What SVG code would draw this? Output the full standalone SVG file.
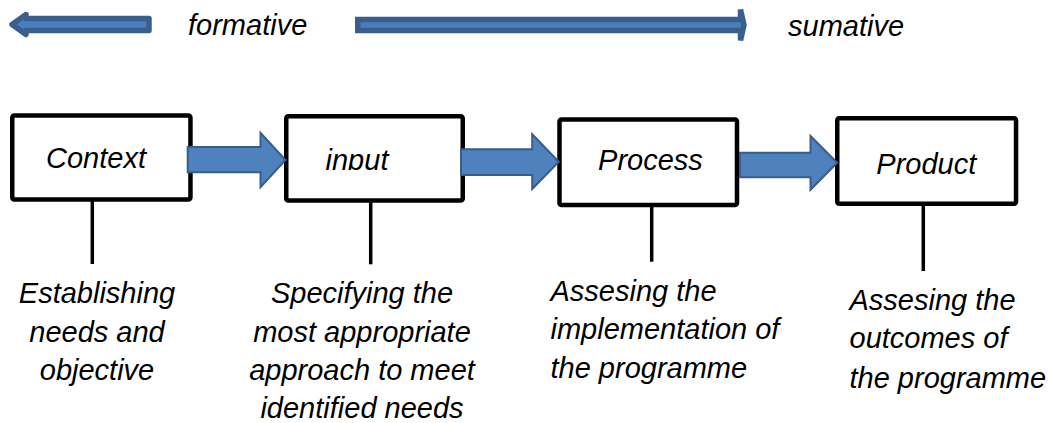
<svg xmlns="http://www.w3.org/2000/svg" width="1055" height="423" viewBox="0 0 1055 423">
  <style>
    .lbl { font-family: "Liberation Sans", Arial, sans-serif; font-style: italic; font-size: 29px; fill: #000; }
    .mid { text-anchor: middle; }
    .box { fill: #fff; stroke: #000; stroke-width: 4.5; }
    .stem { stroke: #000; stroke-width: 3.5; fill: none; }
    .block { fill: #4F81BD; stroke: #385D8A; stroke-width: 2; stroke-linejoin: miter; }
    .band { fill: #4A7EBB; stroke: #3A5F8E; stroke-width: 5.5; }
  </style>
  <defs>
    <clipPath id="clipInput">
      <rect x="290" y="120" width="170" height="50"/>
    </clipPath>
  </defs>
  <rect width="1055" height="423" fill="#fff"/>

  <!-- scale of evaluation: formative to sumative -->
  <g id="scale">
    <path class="band" stroke-linejoin="round" d="M149,18.5 H26 V14.5 L12,24.5 L26,34.5 V30.5 H149 Z"/>
    <text class="lbl" x="188" y="35">formative</text>
    <path class="band" stroke-linejoin="miter" d="M357.75,19.5 H740.5 V9.5 L744,25 L740.5,40.5 V30.5 H357.75 Z"/>
    <text class="lbl" x="788" y="36">sumative</text>
  </g>

  <!-- vertical stems from boxes down to descriptions -->
  <g id="stems">
    <line class="stem" x1="92.3" y1="200" x2="92.3" y2="264"/>
    <line class="stem" x1="370.7" y1="200" x2="370.7" y2="264.3"/>
    <line class="stem" x1="651.7" y1="205" x2="651.7" y2="261.7"/>
    <line class="stem" x1="923.3" y1="204" x2="923.3" y2="271"/>
  </g>

  <g id="node-context">
    <rect class="box" x="12.25" y="115.5" width="178.2" height="84" rx="2"/>
    <text class="lbl mid" x="96" y="168">Context</text>
    <text class="lbl mid" x="97" y="303.3">Establishing</text>
    <text class="lbl mid" x="97" y="341.7">needs and</text>
    <text class="lbl mid" x="97" y="380">objective</text>
  </g>

  <g id="node-input">
    <rect class="box" x="286.25" y="116.25" width="176.5" height="84.2" rx="2"/>
    <text class="lbl mid" x="357" y="169.5" clip-path="url(#clipInput)">input</text>
    <text class="lbl mid" x="362" y="303.3">Specifying the</text>
    <text class="lbl mid" x="362" y="341.7">most appropriate</text>
    <text class="lbl mid" x="362" y="380">approach to meet</text>
    <text class="lbl mid" x="362" y="418">identified needs</text>
  </g>

  <g id="node-process">
    <rect class="box" x="559.5" y="119.5" width="177.5" height="85.5" rx="2"/>
    <text class="lbl mid" x="650.5" y="170">Process</text>
    <text class="lbl" x="550.5" y="301">Assesing the</text>
    <text class="lbl" x="550.5" y="339.3">implementation of</text>
    <text class="lbl" x="550.5" y="377.7">the programme</text>
  </g>

  <g id="node-product">
    <rect class="box" x="837.25" y="118.25" width="178.8" height="85.5" rx="2"/>
    <text class="lbl mid" x="926.3" y="174">Product</text>
    <text class="lbl" x="849.5" y="310">Assesing the</text>
    <text class="lbl" x="849.5" y="348.3">outcomes of</text>
    <text class="lbl" x="849.5" y="387.7">the programme</text>
  </g>

  <!-- block arrows between stages -->
  <g id="connectors">
    <path class="block" d="M187.7,147 H260.5 V132.7 L285.5,160 L260.5,187.3 V172.3 H187.7 Z"/>
    <path class="block" d="M461,149.3 H532.2 V134.3 L558.8,161.7 L532.2,189 V175 H461 Z"/>
    <path class="block" d="M740,152.7 H810.5 V136 L837.2,162.7 L810.5,189.7 V177.3 H740 Z"/>
  </g>
</svg>
